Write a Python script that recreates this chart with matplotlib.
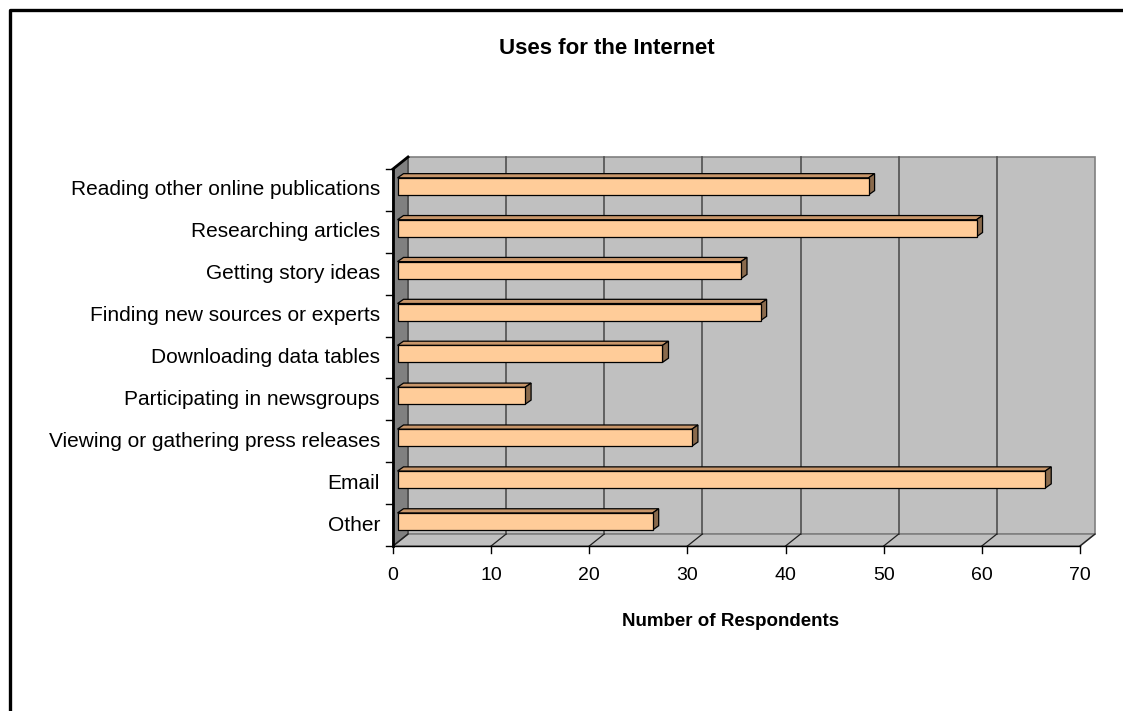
import matplotlib
matplotlib.use("Agg")
from matplotlib import pyplot as plt
from matplotlib.patches import Polygon, Rectangle
from matplotlib.lines import Line2D

plt.rcParams['font.family'] = ['Liberation Sans', 'DejaVu Sans']

# survey answers, top to bottom as listed
categories = ["Reading other online publications", "Researching articles",
              "Getting story ideas", "Finding new sources or experts",
              "Downloading data tables", "Participating in newsgroups",
              "Viewing or gathering press releases", "Email", "Other"]
respondents = [48, 59, 35, 37, 27, 13, 30, 66, 26]
x_ticks = [0, 10, 20, 30, 40, 50, 60, 70]

W, H = 1123, 711
fig = plt.figure(figsize=(W / 100, H / 100), dpi=100)

# front plane of the plot in pixels
px_l, px_r, px_t, px_b = 393, 1080, 169, 546
ax = fig.add_axes([px_l / W, (H - px_b) / H, (px_r - px_l) / W, (px_b - px_t) / H])
n = len(categories)
xmax = x_ticks[-1]
ax.set_xlim(0, xmax)
ax.set_ylim(-0.5, n - 0.5)
ax.axis('off')

ux = (px_r - px_l) / xmax          # pixels per unit
uy = (px_b - px_t) / n
dx, dy = 15 / ux, 12 / uy          # wall depth in data units

y0, y1 = -0.5, n - 0.5

def poly(pts, fc, ec, lw=1.0, z=1):
    ax.add_patch(Polygon(pts, closed=True, facecolor=fc, edgecolor=ec,
                         linewidth=lw, zorder=z, clip_on=False))

# back wall, floor, side wall
poly([(dx, y0 + dy), (xmax + dx, y0 + dy), (xmax + dx, y1 + dy), (dx, y1 + dy)],
     '#C0C0C0', '#808080', 1.2)
poly([(0, y0), (xmax, y0), (xmax + dx, y0 + dy), (dx, y0 + dy)], '#C0C0C0', '#808080', 1.2)
poly([(0, y0), (dx, y0 + dy), (dx, y1 + dy), (0, y1)], '#808080', '#404040', 1.0)

for t in x_ticks[1:-1]:
    ax.add_line(Line2D([t + dx, t + dx], [y0 + dy, y1 + dy], color='#505050', lw=1.2,
                       zorder=2, clip_on=False))
for t in x_ticks:
    ax.add_line(Line2D([t, t + dx], [y0, y0 + dy], color='#202020', lw=0.9,
                       zorder=2, clip_on=False))

# axis lines and ticks
ax.add_line(Line2D([0, xmax], [y0, y0], color='black', lw=1.0, zorder=5, clip_on=False))
ax.add_line(Line2D([0, 0], [y0, y1], color='black', lw=2.0, zorder=5, clip_on=False))
ax.add_line(Line2D([0, dx], [y1, y1 + dy], color='black', lw=2.0, zorder=5, clip_on=False))
tk = 7 / ux
for i in range(n + 1):
    ax.add_line(Line2D([-tk, 0], [i - 0.5, i - 0.5], color='black', lw=1.0,
                       zorder=5, clip_on=False))
tky = 7 / uy
for t in x_ticks:
    ax.add_line(Line2D([t, t], [y0, y0 - tky], color='black', lw=1.0, zorder=5, clip_on=False))
    ax.text(t, y0 - 30 / uy, str(t), ha='center', va='center', fontsize=14)

# bars sit part way into the depth
bx, by = 0.3 * dx, 0.3 * dy
ddx, ddy = 0.4 * dx, 0.35 * dy
bh = 17 / uy
for k, (lab, v) in enumerate(zip(categories, respondents)):
    yc = n - 1 - k
    x0, x1 = bx, v + bx
    lo, hi = yc - bh / 2 + by, yc + bh / 2 + by
    poly([(x0, hi), (x1, hi), (x1 + ddx, hi + ddy), (x0 + ddx, hi + ddy)], '#C8966A', 'black', 0.9, 6)
    poly([(x1, lo), (x1 + ddx, lo + ddy), (x1 + ddx, hi + ddy), (x1, hi)], '#8A6A4C', 'black', 0.9, 6)
    ax.add_patch(Rectangle((x0, lo), x1 - x0, hi - lo, facecolor='#FFCC99', edgecolor='black',
                           linewidth=0.9, zorder=7, clip_on=False))
    ax.text(-13 / ux, yc, lab, ha='right', va='center', fontsize=15)

fig.text(607 / W, 1 - 48 / H, "Uses for the Internet", ha='center', va='center',
         fontsize=16, fontweight='bold')
fig.text(731 / W, 1 - 622 / H, "Number of Respondents", ha='center', va='center',
         fontsize=13.5, fontweight='bold')

# chart area border (top and left edges fall inside the image)
fig.add_artist(Line2D([10 / W, 10 / W, 1], [0, 1 - 10 / H, 1 - 10 / H],
                      transform=fig.transFigure, color='black', lw=2.4))

fig.savefig("out.png", dpi=100)
